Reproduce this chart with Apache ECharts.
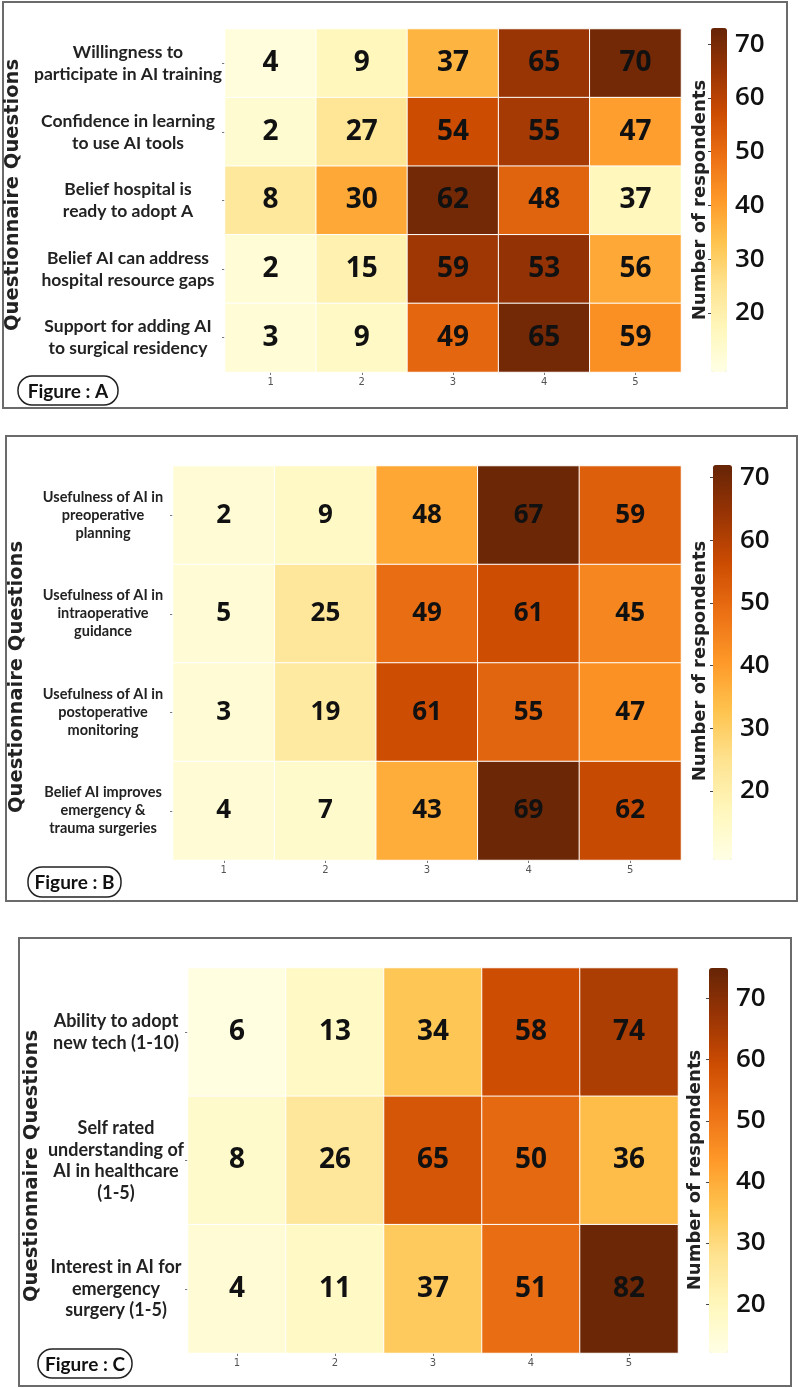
<!DOCTYPE html>
<html>
<head>
<meta charset="utf-8">
<script src="https://cdn.jsdelivr.net/npm/echarts@6/dist/echarts.min.js"></script>
<style>
html,body{margin:0;padding:0;background:#fff;}
#chart{width:800px;height:1388px;}
</style>
</head>
<body>
<div id="chart"></div>
<script>
// ---- data ----
const scoreLevels = ['1', '2', '3', '4', '5'];
const colorbarTicks = [20, 30, 40, 50, 60, 70];

const questionsA = [
  'Willingness to\nparticipate in AI training',
  'Confidence in learning\nto use AI tools',
  'Belief hospital is\nready to adopt A',
  'Belief AI can address\nhospital resource gaps',
  'Support for adding AI\nto surgical residency'
];
const countsA = [
  [4, 9, 37, 65, 70],
  [2, 27, 54, 55, 47],
  [8, 30, 62, 48, 37],
  [2, 15, 59, 53, 56],
  [3, 9, 49, 65, 59]
];
// cell colour level as read against each panel's colour bar
const shadeA = [
  [11, 17, 36, 65, 71],
  [13, 24, 57, 63, 40],
  [23, 38, 71, 52, 17],
  [12, 19, 64, 66, 38],
  [12, 15, 51, 71, 43]
];
const rangeA = [9, 73];

const questionsB = [
  'Usefulness of AI in\npreoperative\nplanning',
  'Usefulness of AI in\nintraoperative\nguidance',
  'Usefulness of AI in\npostoperative\nmonitoring',
  'Belief AI improves\nemergency &\ntrauma surgeries'
];
const countsB = [
  [2, 9, 48, 67, 59],
  [5, 25, 49, 61, 45],
  [3, 19, 61, 55, 47],
  [4, 7, 43, 69, 62]
];
const shadeB = [
  [12, 15, 38, 71, 52],
  [12, 23, 49, 56, 44],
  [12, 22, 56, 51, 42],
  [12, 14, 37, 71, 57]
];
const rangeB = [9, 72];

const questionsC = [
  'Ability to adopt\nnew tech (1-10)',
  'Self rated\nunderstanding of\nAI in healthcare\n(1-5)',
  'Interest in AI for\nemergency\nsurgery (1-5)'
];
const countsC = [
  [6, 13, 34, 58, 74],
  [8, 26, 65, 50, 36],
  [4, 11, 37, 51, 82]
];
const shadeC = [
  [13, 18, 35, 59, 64],
  [17, 26, 57, 53, 37],
  [15, 18, 34, 52, 74]
];
const rangeC = [12, 75];

const colorbarTitle = 'Number of respondents';
const yTitle = 'Questionnaire Questions';
const figureLabels = ['Figure : A', 'Figure : B', 'Figure : C'];

// ---- build ----
const YlOrBr = ['#ffffe5', '#fff7bc', '#fee391', '#fec44f', '#fe9929', '#ec7014', '#cc4c02', '#993404', '#662506'];

function cells(counts, shade) {
  const out = [];
  counts.forEach((row, r) => row.forEach((v, c) => out.push([c, r, shade[r][c], v])));
  return out;
}

const panels = [
  { q: questionsA, counts: countsA, shade: shadeA, range: rangeA,
    grid: { left: 225, top: 29, width: 456, height: 343 },
    bar: { left: 711, top: 28, width: 16, height: 344 },
    labelMargin: 97, labelSize: 17.5, labelLH: 22, numSize: 28 },
  { q: questionsB, counts: countsB, shade: shadeB, range: rangeB,
    grid: { left: 173, top: 466, width: 508, height: 394 },
    bar: { left: 713, top: 465, width: 19, height: 395 },
    labelMargin: 70, labelSize: 14.5, labelLH: 18, numSize: 26 },
  { q: questionsC, counts: countsC, shade: shadeC, range: rangeC,
    grid: { left: 188, top: 968, width: 490, height: 385 },
    bar: { left: 709, top: 968, width: 19, height: 385 },
    labelMargin: 72, labelSize: 18, labelLH: 21.5, numSize: 28 }
];

const grid = [], xAxis = [], yAxis = [], series = [], visualMap = [];
panels.forEach((p, i) => {
  grid.push(Object.assign({ containLabel: false }, p.grid));
  xAxis.push({
    type: 'category', gridIndex: i, data: scoreLevels,
    axisLine: { show: false },
    axisTick: { show: true, alignWithLabel: true, length: 3, lineStyle: { color: '#777' } },
    axisLabel: { fontSize: 10, color: '#555', margin: 5, fontFamily: 'DejaVu Sans' },
    splitLine: { show: false }
  });
  yAxis.push({
    type: 'category', gridIndex: i, data: p.q, inverse: true,
    axisLine: { show: false },
    axisTick: { show: true, length: 3, alignWithLabel: true, lineStyle: { color: '#777' } },
    axisLabel: {
      align: 'center', margin: p.labelMargin, fontSize: p.labelSize, lineHeight: p.labelLH,
      fontWeight: 'bold', color: '#222', fontFamily: 'Lato', interval: 0
    },
    splitLine: { show: false }
  });
  series.push({
    type: 'heatmap', xAxisIndex: i, yAxisIndex: i,
    data: cells(p.counts, p.shade),
    itemStyle: { borderColor: '#ffffff', borderWidth: 1 },
    label: {
      show: true, fontSize: p.numSize, fontWeight: 'bold', color: '#111',
      fontFamily: 'Open Sans',
      formatter: (d) => String(d.value[3])
    },
    emphasis: { disabled: true }
  });
  visualMap.push({
    type: 'continuous', seriesIndex: i, dimension: 2,
    min: p.range[0], max: p.range[1],
    inRange: { color: YlOrBr },
    calculable: false, hoverLink: false, text: null, padding: 0,
    left: p.bar.left, top: p.bar.top, itemWidth: p.bar.width, itemHeight: p.bar.height,
    showLabel: false
  });
});
// colour-bar tick axes
panels.forEach((p, i) => {
  const gi = grid.length;
  grid.push(Object.assign({ containLabel: false }, p.bar));
  xAxis.push({ type: 'value', gridIndex: gi, show: false });
  yAxis.push({
    type: 'value', gridIndex: gi, min: p.range[0], max: p.range[1], position: 'right',
    axisLine: { show: false },
    axisTick: { show: true, inside: true, length: 3, lineStyle: { color: '#444' }, customValues: colorbarTicks },
    axisLabel: { fontSize: 26, fontWeight: 600, color: '#111', margin: 8, fontFamily: 'Open Sans', customValues: colorbarTicks },
    splitLine: { show: false }
  });
});

const graphic = [];
// panel frames
[[3, 2, 784, 406], [6, 436, 791, 465], [19, 938, 772, 448]].forEach((b) => {
  graphic.push({ type: 'rect', shape: { x: b[0], y: b[1], width: b[2], height: b[3] },
    style: { fill: 'none', stroke: '#6b6b6b', lineWidth: 2 }, silent: true });
});
// figure tags
[[18, 376, 100, 29], [28, 867, 93, 30], [38, 1349, 94, 29]].forEach((b, i) => {
  graphic.push({ type: 'rect', shape: { x: b[0], y: b[1], width: b[2], height: b[3], r: 14 },
    style: { fill: '#fff', stroke: '#222', lineWidth: 1.5 }, silent: true });
  graphic.push({ type: 'text', x: b[0] + b[2] / 2, y: b[1] + b[3] / 2 + 1,
    style: { text: figureLabels[i], fontSize: 19, fontWeight: 'bold', fontFamily: 'Lato', fill: '#111',
      textAlign: 'center', textVerticalAlign: 'middle' }, silent: true });
});
// rotated titles
[[13, 195], [17, 677], [32, 1166]].forEach((c) => {
  graphic.push({ type: 'text', x: c[0], y: c[1], rotation: Math.PI / 2,
    style: { text: yTitle, fontSize: 19.5, fontWeight: 'bold', fontFamily: 'DejaVu Sans', fill: '#222',
      textAlign: 'center', textVerticalAlign: 'middle' }, silent: true });
});
[[700, 200], [700, 661], [695, 1170]].forEach((c) => {
  graphic.push({ type: 'text', x: c[0], y: c[1], rotation: Math.PI / 2,
    style: { text: colorbarTitle, fontSize: 18, fontWeight: 'bold', fontFamily: 'DejaVu Sans', fill: '#222',
      textAlign: 'center', textVerticalAlign: 'middle' }, silent: true });
});

const chart = echarts.init(document.getElementById('chart'), null, { renderer: 'canvas' });
chart.setOption({
  backgroundColor: '#ffffff',
  animation: false,
  grid, xAxis, yAxis, series, visualMap, graphic
});
</script>
</body>
</html>
